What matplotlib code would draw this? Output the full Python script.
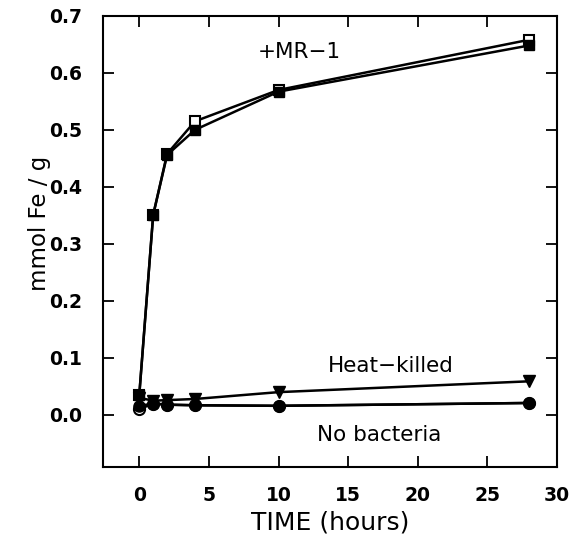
import numpy as np
import matplotlib.pyplot as plt

# time points (hours)
t = [0, 1, 2, 4, 10, 28]

# +MR-1 (two replicates, filled and open squares)
mr1_filled = [0.035, 0.351, 0.456, 0.500, 0.567, 0.648]
mr1_open = [0.035, 0.351, 0.458, 0.515, 0.570, 0.658]

# heat-killed
heat_killed = [0.030, 0.025, 0.026, 0.028, 0.040, 0.059]

# no bacteria
no_bact_filled = [0.016, 0.020, 0.018, 0.017, 0.016, 0.021]
no_bact_open = [0.010, 0.020, 0.018, 0.017, 0.016, 0.021]

plt.rcParams['font.family'] = ['DejaVu Sans']

fig = plt.figure(figsize=(5.79, 5.46), dpi=100)
ax = fig.add_axes([0.178, 0.145, 0.784, 0.826])

lw = 1.8
ax.plot(t, mr1_open, '-s', color='k', mfc='white', mec='k', ms=7.5, lw=lw, mew=1.5)
ax.plot(t, mr1_filled, '-s', color='k', ms=7.5, lw=lw)
ax.plot(t, heat_killed, '-v', color='k', ms=9, lw=lw)
ax.plot(t, no_bact_open, '-o', color='k', mfc='white', ms=8, lw=lw, mew=1.5)
ax.plot(t, no_bact_filled, '-o', color='k', ms=8, lw=lw)

ax.text(11.5, 0.637, '+MR\u22121', fontsize=15.5, ha='center', va='center')
ax.text(18.1, 0.086, 'Heat\u2212killed', fontsize=15.5, ha='center', va='center')
ax.text(17.2, -0.035, 'No bacteria', fontsize=15.5, ha='center', va='center')

ax.set_xlim(-2.6, 30)
ax.set_ylim(-0.091, 0.7)
ax.set_xticks([0, 5, 10, 15, 20, 25, 30])
ax.set_yticks(np.arange(0, 0.71, 0.1))
ax.set_yticklabels(['0.0', '0.1', '0.2', '0.3', '0.4', '0.5', '0.6', '0.7'])

ax.tick_params(direction='in', length=8, width=1.3, top=True, right=True,
               labelsize=13.5)
ax.tick_params(axis='y', pad=15)
ax.tick_params(axis='x', pad=14)
for lab in ax.get_xticklabels() + ax.get_yticklabels():
    lab.set_fontweight('bold')
for s in ax.spines.values():
    s.set_linewidth(1.5)

ax.set_xlabel('TIME (hours)', fontsize=18)
ax.set_ylabel('mmol Fe / g', fontsize=16.5)
ax.xaxis.set_label_coords(0.5, -0.097)
ax.yaxis.set_label_coords(-0.115, 0.54)

fig.savefig('out.png', dpi=100)
